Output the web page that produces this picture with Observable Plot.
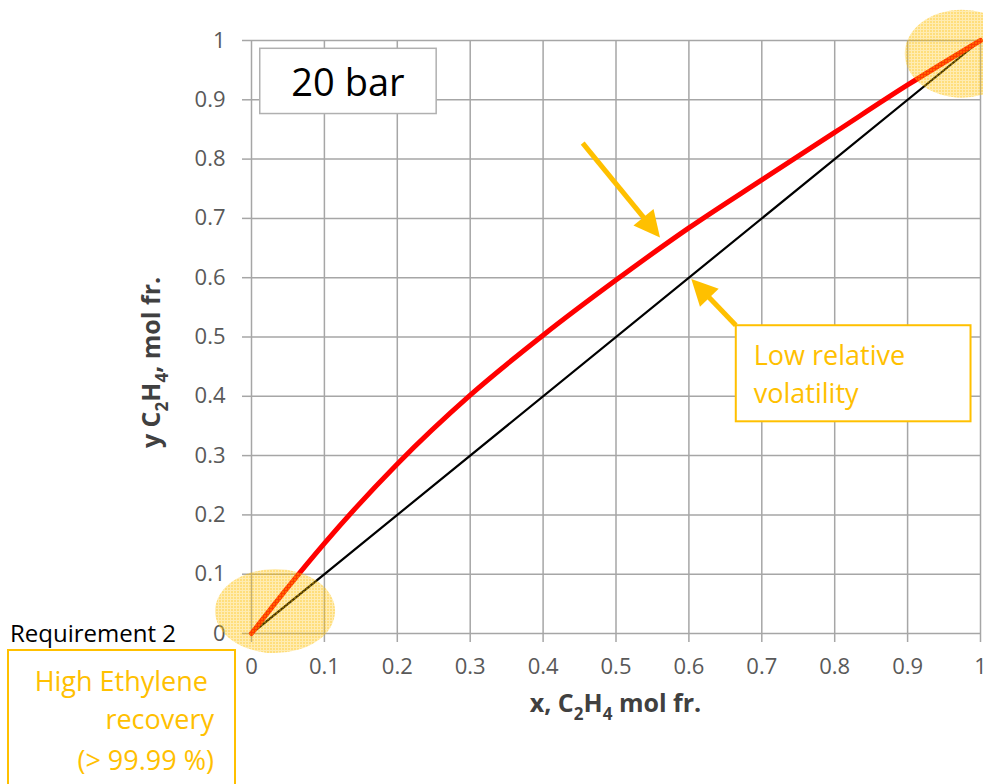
<!DOCTYPE html>
<html>
<head>
<meta charset="utf-8">
<script src="https://cdn.jsdelivr.net/npm/d3@7"></script>
<script src="https://cdn.jsdelivr.net/npm/@observablehq/plot@0.6"></script>
<style>
  body { margin: 0; background: #fff; }
  #chart svg { display: block; }
</style>
</head>
<body>
<div id="chart"></div>
<script>
// Ethylene liquid mole fraction (x) and equilibrium vapour mole fraction (y), 20 bar
const liquidX = [0, 0.05, 0.1, 0.2, 0.3, 0.4, 0.5, 0.6, 0.7, 0.8, 0.9, 1.0];
const vaporY  = [0, 0.078, 0.152, 0.286, 0.402, 0.503, 0.596, 0.684, 0.765, 0.845, 0.925, 1.0];
// y = x reference line
const diagonalX = [0, 1];
const diagonalY = [0, 1];
// Axis ticks
const tickValues = [0, 0.1, 0.2, 0.3, 0.4, 0.5, 0.6, 0.7, 0.8, 0.9, 1];
const tickLabels = ["0", "0.1", "0.2", "0.3", "0.4", "0.5", "0.6", "0.7", "0.8", "0.9", "1"];

const FONT = "'Open Sans', 'Noto Sans', sans-serif";
const GRID = "#a6a6a6";
const GOLD = "#FFC000";

const curve = liquidX.map((x, i) => ({x, y: vaporY[i]}));
const diagonal = diagonalX.map((x, i) => ({x, y: diagonalY[i]}));
const fmt = d => tickLabels[tickValues.findIndex(t => Math.abs(t - d) < 1e-9)];

const plot = Plot.plot({
  width: 983,
  height: 784,
  marginLeft: 251,
  marginRight: 3,
  marginTop: 40,
  marginBottom: 151,
  x: {domain: [0, 1]},
  y: {domain: [0, 1]},
  style: {fontFamily: FONT, background: "#fff", overflow: "visible"},
  marks: [
    Plot.gridX(tickValues, {stroke: GRID, strokeOpacity: 1, strokeWidth: 1.5}),
    Plot.gridY(tickValues, {stroke: GRID, strokeOpacity: 1, strokeWidth: 1.5}),
    Plot.axisX(tickValues, {
      tickSize: 9, tickPadding: 16, stroke: GRID, strokeWidth: 1.5,
      fill: "#595959", fontSize: 22, tickFormat: fmt, label: null
    }),
    Plot.axisY(tickValues, {
      tickSize: 9, tickPadding: 17, stroke: GRID, strokeWidth: 1.5,
      fill: "#595959", fontSize: 22, tickFormat: fmt, label: null
    }),
    Plot.line(diagonal, {x: "x", y: "y", stroke: "#000", strokeWidth: 2.2}),
    Plot.line(curve, {x: "x", y: "y", stroke: "#ff0000", strokeWidth: 5, curve: "monotone-x"})
  ]
});

document.getElementById("chart").append(plot);

const sx = plot.scale("x").apply;
const sy = plot.scale("y").apply;
const svg = d3.select(plot);

// Dotted highlight fill
const defs = svg.append("defs");
const pat = defs.append("pattern")
  .attr("id", "dots").attr("patternUnits", "userSpaceOnUse")
  .attr("width", 3).attr("height", 3);
pat.append("rect").attr("width", 3).attr("height", 3).attr("fill", GOLD).attr("fill-opacity", 0.3);
pat.append("rect").attr("width", 2).attr("height", 2).attr("fill", GOLD).attr("fill-opacity", 0.3);

const notes = svg.append("g").attr("text-anchor", "start");

// Highlighted ends of the curve
notes.append("ellipse")
  .attr("cx", sx(0.033)).attr("cy", sy(0.037)).attr("rx", 60).attr("ry", 42)
  .attr("fill", "url(#dots)");
notes.append("ellipse")
  .attr("cx", sx(0.975)).attr("cy", sy(0.977)).attr("rx", 57).attr("ry", 44)
  .attr("fill", "url(#dots)");

// Rich text with subscripts
function richText(parent, parts, size) {
  const t = parent.append("text");
  const shift = size * 0.3;
  parts.forEach(([s, sub], i) => {
    const ts = t.append("tspan").text(s);
    if (sub) ts.attr("font-size", size * 0.68).attr("dy", shift);
    else if (i > 0 && parts[i - 1][1]) ts.attr("dy", -shift);
  });
  return t;
}

// Axis titles
richText(notes, [["x, C"], ["2", true], ["H"], ["4", true], [" mol fr."]], 25)
  .attr("x", sx(0.5)).attr("y", 712)
  .attr("text-anchor", "middle").attr("font-weight", "bold")
  .attr("font-size", 25).attr("font-family", FONT).attr("fill", "#404040");

richText(notes, [["y C"], ["2", true], ["H"], ["4", true], [", mol fr."]], 25)
  .attr("transform", `translate(160, ${(sy(0) + sy(1)) / 2 + 26}) rotate(-90)`)
  .attr("text-anchor", "middle").attr("font-weight", "bold")
  .attr("font-size", 25).attr("font-family", FONT).attr("fill", "#404040");

// "20 bar" label box
notes.append("rect")
  .attr("x", sx(0.012)).attr("y", sy(0.986))
  .attr("width", sx(0.254) - sx(0.012)).attr("height", sy(0.876) - sy(0.986))
  .attr("fill", "#fff").attr("stroke", "#b0b0b0").attr("stroke-width", 1.5);
notes.append("text")
  .attr("x", (sx(0.012) + sx(0.254)) / 2).attr("y", sy(0.905))
  .attr("text-anchor", "middle").attr("font-family", FONT)
  .attr("font-size", 38).attr("fill", "#000").text("20 bar");

// Arrows
function arrow(x0, y0, x1, y1) {
  const a = [sx(x0), sy(y0)], b = [sx(x1), sy(y1)];
  const dx = b[0] - a[0], dy = b[1] - a[1], L = Math.hypot(dx, dy);
  const ux = dx / L, uy = dy / L, head = 26, half = 13;
  const base = [b[0] - ux * head, b[1] - uy * head];
  notes.append("line")
    .attr("x1", a[0]).attr("y1", a[1]).attr("x2", base[0] + ux * 2).attr("y2", base[1] + uy * 2)
    .attr("stroke", GOLD).attr("stroke-width", 5);
  notes.append("path")
    .attr("d", `M${b[0]},${b[1]}L${base[0] - uy * half},${base[1] + ux * half}L${base[0] + uy * half},${base[1] - ux * half}Z`)
    .attr("fill", GOLD);
}
arrow(0.455, 0.826, 0.561, 0.667);
arrow(0.665, 0.519, 0.604, 0.597);

// "Low relative volatility" callout
notes.append("rect")
  .attr("x", sx(0.665)).attr("y", sy(0.519))
  .attr("width", sx(0.987) - sx(0.665)).attr("height", sy(0.357) - sy(0.519))
  .attr("fill", "#fff").attr("stroke", GOLD).attr("stroke-width", 2);
const lowText = notes.append("text")
  .attr("text-anchor", "start")
  .attr("font-family", FONT).attr("font-size", 27).attr("fill", GOLD);
lowText.append("tspan").attr("x", sx(0.665) + 18).attr("y", sy(0.519) + 40).text("Low relative");
lowText.append("tspan").attr("x", sx(0.665) + 18).attr("y", sy(0.519) + 78).text("volatility");

// Requirement 2 callout
notes.append("text")
  .attr("x", 10).attr("y", 642).attr("text-anchor", "start")
  .attr("font-family", FONT).attr("font-size", 24).attr("fill", "#000")
  .text("Requirement 2");
notes.append("rect")
  .attr("x", 8).attr("y", 650).attr("width", 227).attr("height", 150)
  .attr("fill", "#fff").attr("stroke", GOLD).attr("stroke-width", 2);
const reqText = notes.append("text")
  .attr("font-family", FONT).attr("font-size", 27).attr("fill", GOLD)
  .attr("text-anchor", "end");
reqText.append("tspan").attr("x", 208).attr("y", 691).text("High Ethylene");
reqText.append("tspan").attr("x", 214).attr("y", 729).text("recovery");
reqText.append("tspan").attr("x", 214).attr("y", 770).text("(> 99.99 %)");
</script>
</body>
</html>
